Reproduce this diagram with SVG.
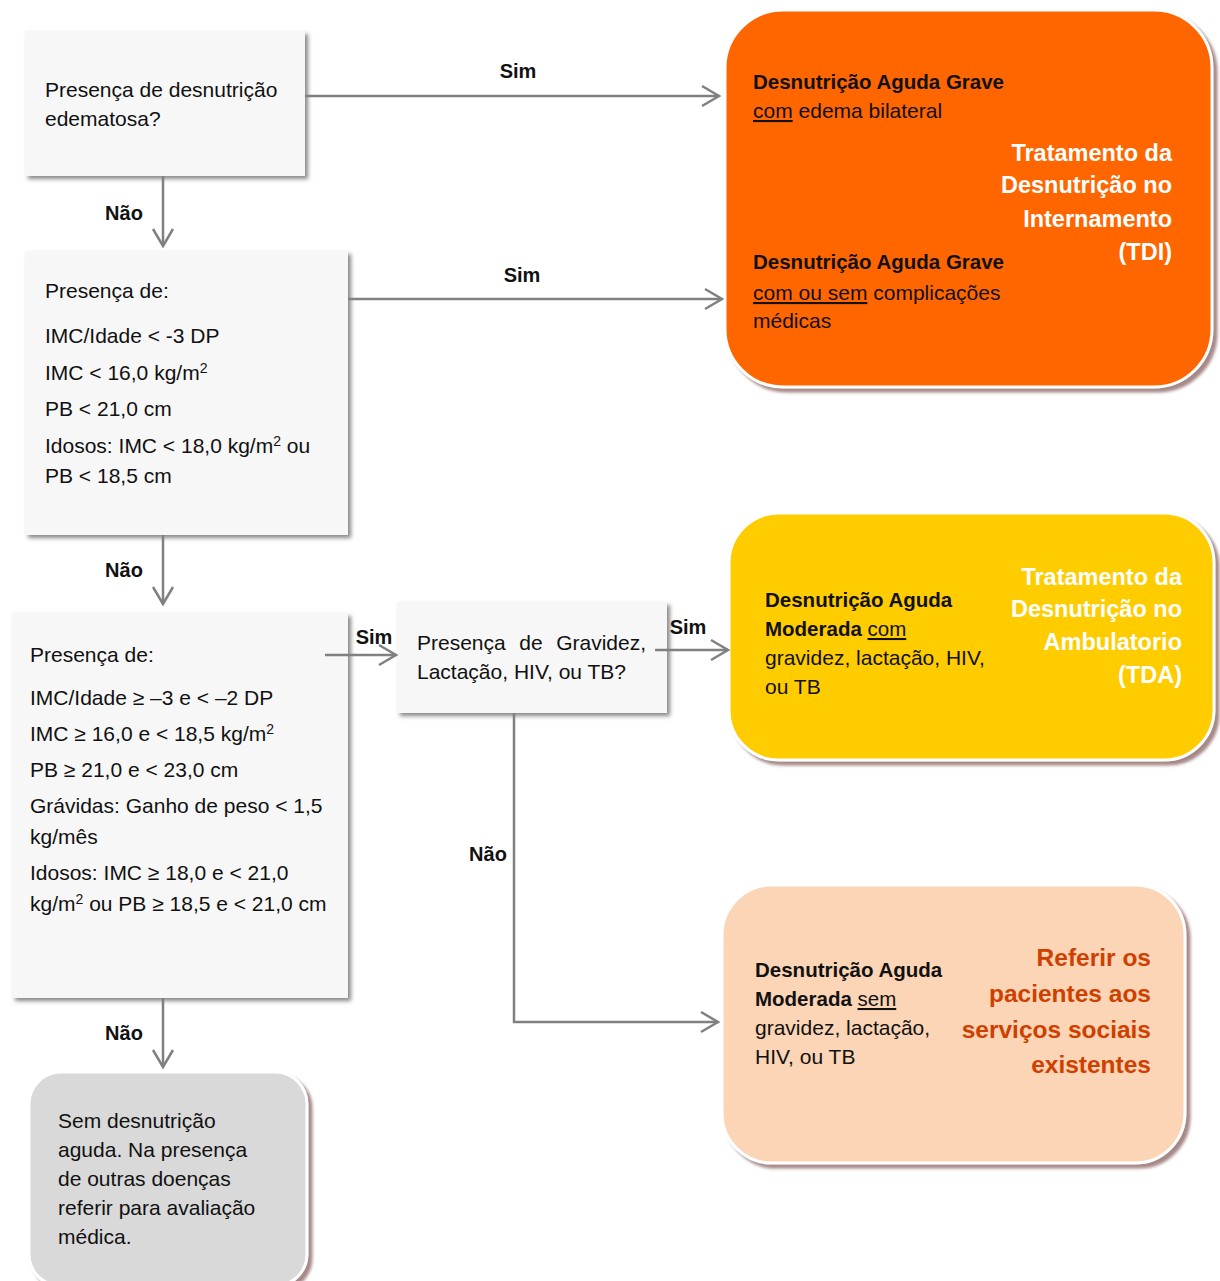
<svg xmlns="http://www.w3.org/2000/svg" width="1220" height="1281" viewBox="0 0 1220 1281">
<style>
text{font-family:"Liberation Sans",Arial,sans-serif;fill:#111}
.b{font-size:21px}
.bd{font-size:20.5px;font-weight:bold}
.lbl{font-size:20px;font-weight:bold;text-anchor:middle}
.wt{font-size:23.5px;font-weight:bold;fill:#fff;text-anchor:end}
.rt{font-size:24.5px;font-weight:bold;fill:#cf3f00;text-anchor:end}
.u{text-decoration:underline}
.sup{font-size:14px}
.box{fill:#f7f7f7;filter:url(#sh)}
.rb{stroke:#fff;stroke-width:3;filter:url(#sh2)}
.con{fill:none;stroke:#808080;stroke-width:2.5}
</style>
<defs>
<filter id="sh" x="-10%" y="-10%" width="125%" height="125%">
<feDropShadow dx="3" dy="3" stdDeviation="2" flood-color="#555" flood-opacity="0.7"/>
</filter>
<filter id="sh2" x="-10%" y="-10%" width="125%" height="125%">
<feDropShadow dx="4" dy="4" stdDeviation="1.5" flood-color="#9e7b7b" flood-opacity="0.9"/>
</filter>
<marker id="arr" markerUnits="userSpaceOnUse" markerWidth="24" markerHeight="24" viewBox="0 0 24 24" refX="20" refY="12" orient="auto">
<path d="M3,2 L20,12 L3,22" fill="none" stroke="#808080" stroke-width="2.5"/>
</marker>
</defs>
<rect width="1220" height="1281" fill="#fff"/>

<g id="n1">
<rect class="box" x="25" y="31" width="280" height="145"/>
<text class="b" x="45" y="97">Presença de desnutrição</text>
<text class="b" x="45" y="126">edematosa?</text>
</g>

<g id="n2">
<rect class="box" x="25" y="251" width="323" height="284"/>
<text class="b" x="45" y="298">Presença de:</text>
<text class="b" x="45" y="343">IMC/Idade &lt; -3 DP</text>
<text class="b" x="45" y="380">IMC &lt; 16,0 kg/m<tspan class="sup" dy="-7">2</tspan></text>
<text class="b" x="45" y="416">PB &lt; 21,0 cm</text>
<text class="b" x="45" y="453">Idosos: IMC &lt; 18,0 kg/m<tspan class="sup" dy="-7">2</tspan><tspan dy="7"> ou</tspan></text>
<text class="b" x="45" y="483">PB &lt; 18,5 cm</text>
</g>

<g id="n3">
<rect class="box" x="12" y="613" width="336" height="385"/>
<text class="b" x="30" y="662">Presença de:</text>
<text class="b" x="30" y="705">IMC/Idade ≥ –3 e &lt; –2 DP</text>
<text class="b" x="30" y="741">IMC ≥ 16,0 e &lt; 18,5 kg/m<tspan class="sup" dy="-7">2</tspan></text>
<text class="b" x="30" y="777">PB ≥ 21,0 e &lt; 23,0 cm</text>
<text class="b" x="30" y="813">Grávidas: Ganho de peso &lt; 1,5</text>
<text class="b" x="30" y="844">kg/mês</text>
<text class="b" x="30" y="880">Idosos: IMC ≥ 18,0 e &lt; 21,0</text>
<text class="b" x="30" y="911">kg/m<tspan class="sup" dy="-7">2</tspan><tspan dy="7"> ou PB ≥ 18,5 e &lt; 21,0 cm</tspan></text>
</g>

<g id="n4">
<rect class="box" x="397" y="602" width="270" height="111"/>
<text class="b" x="417" y="650">Presença</text>
<text class="b" x="531" y="650" text-anchor="middle">de</text>
<text class="b" x="646" y="650" text-anchor="end">Gravidez,</text>
<text class="b" x="417" y="679">Lactação, HIV, ou TB?</text>
</g>

<g id="n5">
<rect class="rb" x="725" y="10" width="487" height="377" rx="58" fill="#ff6600"/>
<text class="bd" x="753" y="89">Desnutrição Aguda Grave</text>
<text class="b" x="753" y="118"><tspan class="u">com</tspan> edema bilateral</text>
<text class="wt" x="1172" y="161">Tratamento da</text>
<text class="wt" x="1172" y="193">Desnutrição no</text>
<text class="wt" x="1172" y="227">Internamento</text>
<text class="wt" x="1172" y="260">(TDI)</text>
<text class="bd" x="753" y="269">Desnutrição Aguda Grave</text>
<text class="b" x="753" y="300"><tspan class="u">com ou sem</tspan> complicações</text>
<text class="b" x="753" y="328">médicas</text>
</g>

<g id="n6">
<rect class="rb" x="729" y="513" width="485" height="247" rx="50" fill="#ffcc00"/>
<text class="bd" x="765" y="607">Desnutrição Aguda</text>
<text class="bd" x="765" y="636">Moderada <tspan class="u" font-weight="normal">com</tspan></text>
<text class="b" x="765" y="665">gravidez, lactação, HIV,</text>
<text class="b" x="765" y="694">ou TB</text>
<text class="wt" x="1182" y="585">Tratamento da</text>
<text class="wt" x="1182" y="617">Desnutrição no</text>
<text class="wt" x="1182" y="650">Ambulatorio</text>
<text class="wt" x="1182" y="683">(TDA)</text>
</g>

<g id="n7">
<rect class="rb" x="722" y="885" width="463" height="278" rx="50" fill="#fbd5b5"/>
<text class="bd" x="755" y="977">Desnutrição Aguda</text>
<text class="bd" x="755" y="1006">Moderada <tspan class="u" font-weight="normal">sem</tspan></text>
<text class="b" x="755" y="1035">gravidez, lactação,</text>
<text class="b" x="755" y="1064">HIV, ou TB</text>
<text class="rt" x="1151" y="966">Referir os</text>
<text class="rt" x="1151" y="1002">pacientes aos</text>
<text class="rt" x="1151" y="1038">serviços sociais</text>
<text class="rt" x="1151" y="1073">existentes</text>
</g>

<g id="n8">
<rect class="rb" x="29" y="1072" width="278" height="214" rx="32" fill="#d9d9d9"/>
<text class="b" x="58" y="1128">Sem desnutrição</text>
<text class="b" x="58" y="1157">aguda. Na presença</text>
<text class="b" x="58" y="1186">de outras doenças</text>
<text class="b" x="58" y="1215">referir para avaliação</text>
<text class="b" x="58" y="1244">médica.</text>
</g>

<g id="connectors">
<line class="con" x1="305" y1="96" x2="719" y2="96" marker-end="url(#arr)"/>
<line class="con" x1="163" y1="176" x2="163" y2="246" marker-end="url(#arr)"/>
<line class="con" x1="348" y1="299" x2="722" y2="299" marker-end="url(#arr)"/>
<line class="con" x1="163" y1="535" x2="163" y2="604" marker-end="url(#arr)"/>
<line class="con" x1="325" y1="655" x2="396" y2="655" marker-end="url(#arr)"/>
<line class="con" x1="655" y1="650" x2="728" y2="650" marker-end="url(#arr)"/>
<polyline class="con" points="514,713 514,1022 718,1022" marker-end="url(#arr)"/>
<line class="con" x1="163" y1="998" x2="163" y2="1067" marker-end="url(#arr)"/>
<text class="lbl" x="518" y="78">Sim</text>
<text class="lbl" x="124" y="220">Não</text>
<text class="lbl" x="522" y="282">Sim</text>
<text class="lbl" x="124" y="577">Não</text>
<text class="lbl" x="374" y="644">Sim</text>
<text class="lbl" x="688" y="634">Sim</text>
<text class="lbl" x="488" y="861">Não</text>
<text class="lbl" x="124" y="1040">Não</text>
</g>
</svg>
